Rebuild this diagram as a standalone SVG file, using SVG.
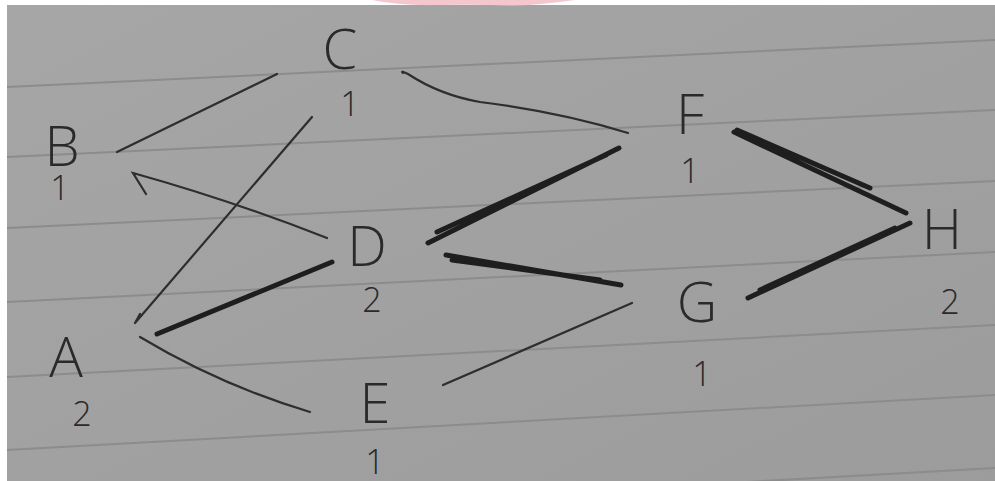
<svg xmlns="http://www.w3.org/2000/svg" width="995" height="481" viewBox="0 0 995 481">
  <style>
    .lbl { font-family: "Open Sans", "Liberation Sans", sans-serif; font-weight: 300; fill: #2a2a2a; text-anchor: middle; }
    .node { font-size: 56px; }
    .num { font-size: 34px; }
    .rule { stroke: #8c8c8c; stroke-width: 2; fill: none; }
    .thin { stroke: #2e2e2e; stroke-width: 2.2; fill: none; stroke-linecap: round; }
    .thick { stroke: #1e1e1e; stroke-width: 5; fill: none; stroke-linecap: round; }
  </style>
  <defs>
    <linearGradient id="paper" x1="0" y1="0" x2="1" y2="1">
      <stop offset="0" stop-color="#a6a6a6"/>
      <stop offset="1" stop-color="#9c9c9c"/>
    </linearGradient>
  </defs>
  <rect x="0" y="0" width="995" height="481" fill="#ffffff"/>
  <rect x="7" y="5" width="988" height="476" fill="url(#paper)"/>
  <!-- watermark -->
  <path d="M 372 0 Q 400 6 440 5 Q 480 4 510 6 Q 540 5 575 0 Z" fill="#f0b4bd" opacity="0.75"/>
  <!-- ruled lines -->
  <g id="rules">
    <line class="rule" x1="7" y1="87" x2="995" y2="40"/>
    <line class="rule" x1="7" y1="157" x2="995" y2="110"/>
    <line class="rule" x1="7" y1="228" x2="995" y2="181"/>
    <line class="rule" x1="7" y1="302" x2="995" y2="252"/>
    <line class="rule" x1="7" y1="377" x2="995" y2="325"/>
    <line class="rule" x1="7" y1="450" x2="995" y2="395"/>
    <line class="rule" x1="480" y1="497" x2="995" y2="468"/>
  </g>
  <g id="connectors">
    <line id="e-BC" class="thin" x1="117" y1="152" x2="277" y2="74"/>
    <path id="e-CA" class="thin" d="M 312 117 L 135 323 M 135 323 L 140 314"/>
    <path id="e-DB" class="thin" d="M 327 238 Q 230 200 133 173 L 146 194"/>
    <path id="e-CF" class="thin" d="M 403 73 Q 400 70 408 74 Q 440 95 480 102 Q 560 112 628 133"/>
    <path id="e-AE" class="thin" d="M 140 337 Q 220 385 310 412"/>
    <line id="e-EG" class="thin" x1="443" y1="385" x2="632" y2="303"/>
    <path id="e-AD" class="thick" d="M 157 334 L 332 262" stroke-width="6.5"/>
    <path id="e-DF" class="thick" d="M 428 243 L 619 148 M 437 232 L 606 155"/>
    <path id="e-FH" class="thick" d="M 734 132 L 906 213 M 737 130 L 870 188"/>
    <path id="e-DG" class="thick" d="M 446 255 L 621 285 M 452 260 L 600 280"/>
    <path id="e-GH" class="thick" d="M 748 298 L 910 223 M 760 290 L 895 228"/>
  </g>
  <g id="node-C"><text class="lbl node" x="340" y="69">C</text><text class="lbl num" x="350" y="116">1</text></g>
  <g id="node-B"><text class="lbl node" x="62" y="166">B</text><text class="lbl num" x="60" y="200" font-size="31">1</text></g>
  <g id="node-F"><text class="lbl node" x="690" y="134">F</text><text class="lbl num" x="690" y="183">1</text></g>
  <g id="node-D"><text class="lbl node" x="367" y="266">D</text><text class="lbl num" x="372" y="312" font-size="32">2</text></g>
  <g id="node-H"><text class="lbl node" x="942" y="249">H</text><text class="lbl num" x="950" y="314">2</text></g>
  <g id="node-A"><text class="lbl node" x="66" y="377">A</text><text class="lbl num" x="82" y="426">2</text></g>
  <g id="node-E"><text class="lbl node" x="375" y="423">E</text><text class="lbl num" x="375" y="474">1</text></g>
  <g id="node-G"><text class="lbl node" x="697" y="322">G</text><text class="lbl num" x="702" y="386">1</text></g>
</svg>
